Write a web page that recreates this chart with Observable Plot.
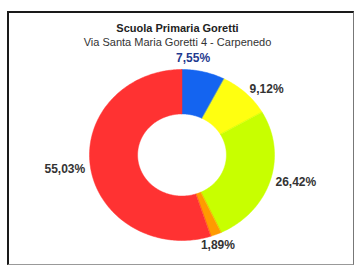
<!DOCTYPE html>
<html>
<head>
<meta charset="utf-8">
<script src="https://cdn.jsdelivr.net/npm/d3@7"></script>
<script src="https://cdn.jsdelivr.net/npm/@observablehq/plot@0.6"></script>
<style>
  html, body { margin: 0; padding: 0; background: #fff; }
  #wrap { position: relative; width: 355px; height: 266px; overflow: hidden; font-family: "Liberation Sans", Arial, sans-serif; }
  #frame { position: absolute; left: 7px; top: 11px; width: 344px; height: 251px;
           border-left: 2px solid #1a1a1a; border-top: 2px solid #1a1a1a;
           border-right: 1px solid #777; border-bottom: 1px solid #999; background: #fff; }
  #title { position: absolute; left: 0; top: 21px; width: 355px; text-align: center; color: #222; line-height: 14px; }
  #title .t { font-weight: bold; font-size: 11px; }
  #title .s { font-size: 11px; color: #333; }
  #chart { position: absolute; left: 0; top: 0; }
</style>
</head>
<body>
<div id="wrap">
  <div id="frame"></div>
  <div id="title"><div class="t">Scuola Primaria Goretti</div><div class="s">Via Santa Maria Goretti 4 - Carpenedo</div></div>
  <div id="chart"></div>
</div>
<script>
// Data (slices in clockwise order from 12 o'clock)
const categories = ["A", "B", "C", "D", "E"];
const values = [7.55, 9.12, 26.42, 1.89, 55.03];
const labels = ["7,55%", "9,12%", "26,42%", "1,89%", "55,03%"];
const colors = ["#1464f0", "#ffff10", "#c8ff00", "#ff9a00", "#ff3232"];
const labelColors = ["#1f3a8f", "#333333", "#333333", "#333333", "#333333"];

const total = d3.sum(values);
const inner = 0.48;
const polys = [];
const labelRows = [];
let acc = 0;
categories.forEach((c, i) => {
  const a0 = acc / total * 2 * Math.PI;
  acc += values[i];
  const a1 = acc / total * 2 * Math.PI;
  const n = Math.max(2, Math.ceil((a1 - a0) / (Math.PI / 180)));
  for (let k = 0; k <= n; k++) {
    const a = a0 + (a1 - a0) * k / n;
    polys.push({cat: c, x: Math.sin(a), y: Math.cos(a)});
  }
  for (let k = n; k >= 0; k--) {
    const a = a0 + (a1 - a0) * k / n;
    polys.push({cat: c, x: inner * Math.sin(a), y: inner * Math.cos(a)});
  }
  const am = (a0 + a1) / 2;
  const s = Math.sin(am), co = Math.cos(am);
  const r = 1.06;
  const side = Math.abs(s) <= 0.4;
  labelRows.push({
    cat: c, label: labels[i], color: labelColors[i],
    x: r * s, y: r * co,
    anchor: s > 0.4 ? "start" : s < -0.4 ? "end" : "middle",
    dx: side ? (co > 0 ? -12 : 0) : 0,
    dy: side ? (co > 0 ? -9 : 6) : 0
  });
});

const cx = 181.5, cy = 154.5, rx = 92.5, ry = 85.5;

const chart = Plot.plot({
  width: 355,
  height: 266,
  margin: 0,
  style: {background: "transparent", overflow: "visible"},
  x: {domain: [-1, 1], range: [cx - rx, cx + rx], axis: null},
  y: {domain: [-1, 1], range: [cy + ry, cy - ry], axis: null},
  color: {domain: categories, range: colors},
  marks: [
    Plot.line(polys, {x: "x", y: "y", z: "cat", fill: "cat", stroke: "cat", strokeWidth: 0.5, curve: "linear-closed"}),
    ...labelRows.map(row => Plot.text([row], {
      x: "x", y: "y", text: "label", fill: row.color,
      textAnchor: row.anchor, dx: row.dx, dy: row.dy,
      fontSize: 12, fontWeight: "bold", fontFamily: "Liberation Sans, Arial, sans-serif"
    }))
  ]
});
document.getElementById("chart").appendChild(chart);
</script>
</body>
</html>
